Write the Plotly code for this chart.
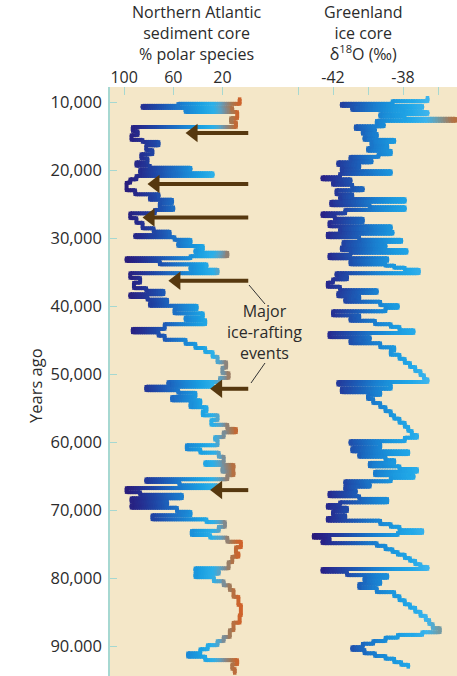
import math
import plotly.graph_objects as go

# ---------------- data ----------------
# Northern Atlantic sediment core: % polar species, step series.
# value sed_pct[i] holds from sed_years[i] to sed_years[i+1]
sed_years = [9500, 10200, 10500, 10800, 11100, 11400, 12300, 12900, 13600, 14200,
             14800, 15500, 15800, 16300, 17000, 17600, 18200, 18800, 19300, 19600,
             19900, 20400, 20800, 21300, 21800, 22900, 23500, 23900, 24300, 24800,
             25400, 25800, 26300, 27000, 27700, 28500, 29000, 29500, 29800, 30200,
             30700, 31100, 31700, 32100, 32600, 32900, 33300, 33800, 34200, 34600,
             35100, 35800, 36500, 37300, 37700, 38200, 38600, 39000, 39500, 39900,
             40400, 41000, 41600, 42000, 42600, 43300, 43800, 44300, 44900, 45500,
             46100, 46700, 47400, 48200, 49000, 49800, 50500, 51100, 51500, 51800,
             52300, 52700, 53300, 53800, 54300, 54800, 55400, 56000, 56700, 57400,
             58000, 58500, 59200, 59600, 60400, 61000, 61500, 62100, 62900, 63300,
             63800, 64300, 64800, 65400, 65800, 66300, 66700, 67300, 67700, 68200,
             68700, 69200, 69600, 70200, 70700, 71300, 71700, 72400, 73000, 73600,
             74000, 74600, 75400, 76300, 76800, 77600, 78500, 78900, 79300, 79800,
             80400, 81000, 81700, 82700, 83900, 85400, 86500, 87600, 88600, 89200,
             89800, 90400, 91000, 91500, 92000, 92600, 93300, 93900]
sed_pct = [6, 56, 85, 12, 50, 8, 13, 9, 93, 89,
           94, 85, 72, 82, 77, 86, 81, 90, 79, 46,
           87, 28, 90, 95, 98, 91, 72, 79, 61, 71,
           60, 75, 95, 90, 85, 76, 63, 91, 59, 46,
           56, 36, 42, 16, 46, 98, 71, 33, 46, 24,
           95, 87, 92, 82, 68, 95, 81, 65, 79, 41,
           59, 36, 50, 34, 67, 93, 72, 67, 50, 42,
           34, 28, 24, 17, 20, 15, 22, 64, 28, 82,
           56, 42, 61, 38, 46, 33, 36, 24, 29, 16,
           9, 19, 26, 24, 49, 38, 23, 19, 34, 11,
           20, 11, 16, 82, 55, 24, 98, 87, 53, 94,
           65, 94, 57, 46, 77, 33, 18, 23, 45, 30,
           16, 5, 9, 7, 12, 15, 42, 23, 42, 27,
           19, 14, 11, 7, 5, 6, 11, 14, 19, 24,
           32, 38, 48, 34, 8, 12, 10]

# Greenland ice core: d18O (per mil), step series
ice_years = [9300, 9800, 10200, 10500, 10800, 11100, 11400, 11700, 12100, 12400,
             12700, 13200, 13500, 13900, 14200, 14600, 15100, 15500, 15800, 16300,
             16700, 17100, 17600, 18000, 18500, 18800, 19200, 19600, 20100, 20500,
             21000, 21300, 21700, 22100, 22600, 22900, 23500, 23900, 24200, 24600,
             25100, 25400, 25800, 26300, 26700, 27100, 27600, 28200, 28600, 29000,
             29300, 29800, 30200, 30500, 31000, 31300, 31700, 32100, 32400, 32900,
             33300, 33800, 34000, 34300, 34600, 35100, 35500, 36000, 36500, 37100,
             37600, 38000, 38500, 38900, 39300, 39800, 40200, 40700, 41300, 41700,
             42100, 42600, 43000, 43500, 43900, 44500, 44900, 45400, 46000, 46500,
             47100, 47700, 48300, 48900, 49500, 50100, 50700, 51100, 51500, 52100,
             52600, 53000, 53600, 54200, 54800, 55400, 56000, 56500, 57100, 57700,
             58300, 58900, 59300, 59800, 60200, 60800, 61300, 61700, 62100, 62600,
             63000, 63500, 63900, 64300, 64800, 65200, 65700, 66100, 66500, 67000,
             67400, 67900, 68300, 68800, 69200, 69600, 70100, 70700, 71100, 71500,
             72000, 72400, 72900, 73300, 73600, 74000, 74500, 74800, 75200, 75700,
             76100, 76500, 77000, 77400, 77900, 78300, 78600, 79000, 79500, 79900,
             80400, 80800, 81400, 82000, 82600, 83200, 83800, 84300, 84900, 85500,
             86100, 86700, 87300, 87900, 88300, 88700, 89200, 89600, 90100, 90500,
             91000, 91400, 91800, 92300, 92700, 93000]
ice_d18o = [-36.6, -38.6, -41.5, -36.9, -40.9, -38.0, -36.6, -39.3, -37.9, -35.0,
            -39.5, -39.1, -40.7, -39.6, -40.3, -39.5, -40.2, -38.5, -39.8, -38.9,
            -40.0, -38.7, -39.4, -41.0, -39.8, -41.7, -40.5, -41.5, -38.7, -41.6,
            -42.6, -41.0, -42.0, -40.9, -40.3, -41.8, -40.9, -41.6, -37.9, -42.1,
            -39.9, -37.9, -41.3, -42.6, -41.9, -40.3, -42.2, -38.7, -41.6, -38.6,
            -42.3, -40.5, -38.1, -41.4, -39.0, -41.5, -37.8, -41.0, -42.2, -38.9,
            -41.0, -39.0, -38.5, -37.9, -37.1, -41.8, -41.2, -42.0, -42.3, -41.6,
            -39.5, -41.7, -40.5, -41.3, -39.3, -38.3, -39.0, -42.0, -40.5, -41.0,
            -39.6, -38.7, -38.2, -37.4, -42.2, -39.9, -41.0, -39.3, -38.5, -38.7,
            -38.2, -37.9, -37.6, -37.3, -37.0, -36.8, -36.6, -41.7, -38.7, -41.5,
            -39.3, -40.0, -39.7, -39.3, -39.0, -38.7, -38.5, -38.2, -37.9, -37.7,
            -37.5, -37.2, -37.9, -41.0, -39.3, -40.9, -37.7, -40.5, -39.0, -38.5,
            -39.9, -38.2, -37.2, -39.6, -37.4, -38.7, -41.3, -39.9, -41.3, -40.7,
            -42.2, -40.5, -38.9, -41.6, -42.3, -41.2, -42.0, -41.3, -42.3, -39.3,
            -38.7, -38.2, -36.9, -38.3, -43.1, -42.2, -42.6, -39.5, -39.0, -38.6,
            -38.3, -37.9, -37.6, -37.3, -37.0, -36.6, -42.6, -41.2, -38.9, -40.2,
            -39.3, -40.5, -39.5, -38.5, -38.2, -37.9, -37.6, -37.3, -37.0, -36.7,
            -36.5, -36.3, -35.9, -36.9, -38.3, -39.0, -39.7, -40.3, -40.9, -40.2,
            -39.6, -39.0, -38.5, -38.1, -37.7]

# Major ice-rafting events (arrows): year, arrow tip (% polar species), tail
event_years = [14500, 22000, 26900, 36200, 52100, 67000]
event_tip_pct = [50, 81, 85, 64, 30, 30]
event_tail_pct = -1

y_tickvals = [10000, 20000, 30000, 40000, 50000, 60000, 70000, 80000, 90000]
y_ticktext = ["10,000", "20,000", "30,000", "40,000", "50,000",
              "60,000", "70,000", "80,000", "90.000"]
sed_tickvals = [100, 60, 20]
ice_tickvals = [-42, -38]
ice_ticktext = ["-42", "-38"]
ice_minor_tickvals = [-44, -40, -36]

# ---------------- styling ----------------
FONT = "Open Sans"
TXT = "#2b2b2b"
TEAL = "#a6d8d1"
BG = "#F4E7C8"
ARROW = "#56380f"
LW = 4.0
HEAD = 16          # arrow head size (px)
SED_PX_PER_UNIT = 1.229   # pixel width of 1 % on the sediment axis (for head offset)

sed_stops = [(0, "#d95f26"), (8, "#c9652f"), (13, "#a8774f"), (18, "#84888a"),
             (23, "#56a3c8"), (28, "#2cb0e8"), (38, "#1ba0e2"), (50, "#1b86d4"),
             (62, "#1d68c0"), (75, "#1f47a6"), (88, "#262c8e"), (100, "#2a1a78")]
ice_stops = [(-43.5, "#2a1570"), (-42.5, "#28238a"), (-41.5, "#2340a0"),
             (-40.5, "#1c5fb8"), (-39.5, "#1a80d0"), (-38.5, "#1b98de"),
             (-37.5, "#22a8e8"), (-36.6, "#3cb4ec"), (-36.0, "#6aa0b0"),
             (-35.0, "#b57040")]


def hex2rgb(h):
    h = h.lstrip("#")
    return tuple(int(h[i:i + 2], 16) for i in (0, 2, 4))


def make_cmap(stops):
    pts = [(v, hex2rgb(c)) for v, c in stops]

    def f(v):
        if v <= pts[0][0]:
            c = pts[0][1]
        elif v >= pts[-1][0]:
            c = pts[-1][1]
        else:
            for (v0, c0), (v1, c1) in zip(pts[:-1], pts[1:]):
                if v0 <= v <= v1:
                    t = (v - v0) / (v1 - v0)
                    c = tuple(c0[k] + (c1[k] - c0[k]) * t for k in range(3))
                    break
        return "rgb(%d,%d,%d)" % tuple(int(round(x)) for x in c)
    return f


def add_gradient_steps(fig, years, vals, xaxis, cmap, step):
    """Draw a step curve whose colour follows its value (split into short colour pieces)."""
    verts = []
    for i, v in enumerate(vals):
        verts.append((v, years[i]))
        verts.append((v, years[i + 1]))
    bins = {}
    for (x0, y0), (x1, y1) in zip(verts[:-1], verts[1:]):
        if x0 == x1 and y0 == y1:
            continue
        n = max(1, int(math.ceil(abs(x1 - x0) / step - 1e-9)))
        for k in range(n):
            xa = x0 + (x1 - x0) * k / n
            xb = x0 + (x1 - x0) * (k + 1) / n
            ya = y0 + (y1 - y0) * k / n
            yb = y0 + (y1 - y0) * (k + 1) / n
            if k < n - 1:  # overlap pieces slightly so no seams show
                xb += (x1 - x0) / n * 0.6
            key = int(round(((xa + xb) / 2) / step))
            bx, by = bins.setdefault(key, ([], []))
            bx += [xa, xb, None]
            by += [ya, yb, None]
    for key in sorted(bins):
        bx, by = bins[key]
        fig.add_trace(go.Scatter(x=bx, y=by, xaxis=xaxis, yaxis="y", mode="lines",
                                 line=dict(color=cmap(key * step), width=LW),
                                 hoverinfo="skip", showlegend=False))
    fig.add_trace(go.Scatter(x=[p[0] for p in verts], y=[p[1] for p in verts],
                             xaxis=xaxis, yaxis="y", mode="markers",
                             marker=dict(symbol="square", size=LW - 0.5,
                                         color=[cmap(p[0]) for p in verts],
                                         line=dict(width=0)),
                             hoverinfo="skip", showlegend=False))


fig = go.Figure()
add_gradient_steps(fig, sed_years, sed_pct, "x", make_cmap(sed_stops), 1.5)
add_gradient_steps(fig, ice_years, ice_d18o, "x2", make_cmap(ice_stops), 0.15)

# arrows for the ice-rafting events: shaft + triangular head
head_shift = (HEAD / 2.0) / SED_PX_PER_UNIT
for yr, tip in zip(event_years, event_tip_pct):
    hc = tip - head_shift   # head centre, so its point lands on the tip value
    fig.add_trace(go.Scatter(x=[event_tail_pct, hc], y=[yr, yr], xaxis="x", yaxis="y",
                             mode="lines", line=dict(color=ARROW, width=4),
                             hoverinfo="skip", showlegend=False))
    fig.add_trace(go.Scatter(x=[hc], y=[yr], xaxis="x", yaxis="y", mode="markers",
                             marker=dict(symbol="triangle-left", size=HEAD,
                                         color=ARROW, line=dict(width=0)),
                             hoverinfo="skip", showlegend=False))

W, H = 457, 676
L, T = 110, 87
PW, PH = W - L, H - T


def px(xp):
    return (xp - L) / PW


def py(yp):
    return (H - yp) / PH


split = px(270)


def text_block(txt, xp, yp, size=16):
    return dict(x=px(xp), y=py(yp), xref="paper", yref="paper", showarrow=False,
                text=txt, font=dict(family=FONT, size=size, color=TXT),
                xanchor="center", yanchor="middle", align="center")


annotations = [
    text_block("Northern Atlantic<br>sediment core<br>% polar species", 197, 33),
    text_block("Greenland<br>ice core<br>δ<sup>18</sup>O (‰)", 363, 33),
    text_block("Major<br>ice-rafting<br>events", 264, 332),
    dict(x=px(35), y=py(386), xref="paper", yref="paper",
         showarrow=False, text="Years ago", textangle=-90,
         font=dict(family=FONT, size=16.5, color=TXT),
         xanchor="center", yanchor="middle"),
]

shapes = [
    dict(type="line", xref="paper", yref="paper", x0=px(249), y0=py(285),
         x1=px(265), y1=py(304), line=dict(color="#333333", width=1)),
    dict(type="line", xref="paper", yref="paper", x0=px(265), y0=py(363),
         x1=px(251), y1=py(383), line=dict(color="#333333", width=1)),
]

fig.update_layout(
    width=W, height=H,
    margin=dict(l=L, r=0, t=T, b=0, pad=0),
    paper_bgcolor="white", plot_bgcolor=BG,
    showlegend=False,
    font=dict(family=FONT, color=TXT),
    xaxis=dict(domain=[0, split], anchor="y", side="top", range=[111.5, -18.7],
               tickvals=sed_tickvals, ticks="inside", ticklen=8, tickcolor=TEAL,
               tickwidth=1, showline=False, showgrid=False, zeroline=False,
               tickfont=dict(family=FONT, size=16, color=TXT)),
    xaxis2=dict(domain=[split, 1], anchor="y", side="top", range=[-45.6, -34.914],
                tickmode="array", tickvals=ice_tickvals, ticktext=ice_ticktext,
                ticks="inside", ticklen=8, tickcolor=TEAL, tickwidth=1,
                minor=dict(tickmode="array", tickvals=ice_minor_tickvals,
                           ticks="inside", ticklen=8, tickcolor=TEAL, tickwidth=1,
                           showgrid=False),
                showline=False, showgrid=False, zeroline=False,
                tickfont=dict(family=FONT, size=16, color=TXT)),
    yaxis=dict(domain=[0, 1], anchor="x", range=[94339, 7721],
               tickvals=y_tickvals, ticktext=y_ticktext, ticks="inside",
               ticklen=7, tickcolor=TEAL, tickwidth=1, showline=True,
               linecolor=TEAL, linewidth=1.5, showgrid=False, zeroline=False,
               ticklabelstandoff=3,
               tickfont=dict(family=FONT, size=16.5, color=TXT)),
    annotations=annotations,
    shapes=shapes,
)

fig.write_html("out.html", config={"displayModeBar": False},
               post_script="document.body.style.margin='0';document.body.style.overflow='hidden';")
